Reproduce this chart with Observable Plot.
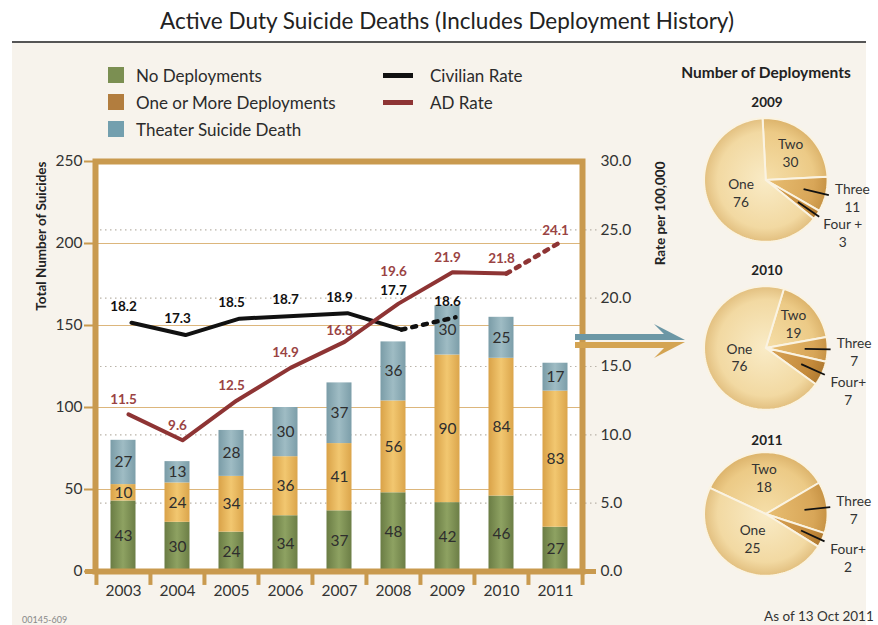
<!DOCTYPE html>
<html><head><meta charset="utf-8">
<script src="https://cdn.jsdelivr.net/npm/d3@7"></script>
<script src="https://cdn.jsdelivr.net/npm/@observablehq/plot@0.6"></script>
<style>
body{margin:0;width:878px;height:625px;position:relative;background:#fff;font-family:Lato,"Open Sans",sans-serif;color:#2b2b2b;overflow:hidden}
.abs{position:absolute;white-space:nowrap}
.c{transform:translate(-50%,-50%)}
.sw{position:absolute;width:16px;height:16px}
.ln{position:absolute;width:30px;height:5px}
.lg{position:absolute;font-size:17px;transform:translateY(-50%)}
</style></head><body>
<div class="abs" style="left:12px;top:43px;width:854px;height:582px;background:#f7f3ec"></div>
<div class="abs" style="left:12px;top:41px;width:854px;height:2px;background:#555"></div>
<div class="abs c" style="left:447px;top:20px;font-size:22.5px;color:#222">Active Duty Suicide Deaths (Includes Deployment History)</div>
<div id="legend"></div>
<div id="main" class="abs" style="left:0;top:140px"></div>
<div id="p2009" class="abs"></div>
<div id="p2010" class="abs"></div>
<div id="p2011" class="abs"></div>
<svg class="abs" style="left:0;top:0" width="878" height="625" pointer-events="none">
  <polygon points="575,334 664,334 654,324 685,340 575,340" fill="#6c97a5"/>
  <polygon points="575,342 685,342 654,358 664,348 575,348" fill="#d4a452"/>
</svg>
<div class="abs c" style="left:766px;top:72px;font-size:15.5px;font-weight:bold;color:#222">Number of Deployments</div>
<div class="abs c" style="left:767px;top:102px;font-size:13.5px;font-weight:bold;color:#222">2009</div>
<div class="abs c" style="left:767px;top:270px;font-size:13.5px;font-weight:bold;color:#222">2010</div>
<div class="abs c" style="left:767px;top:440px;font-size:13.5px;font-weight:bold;color:#222">2011</div>
<div class="abs" style="left:22px;top:614px;font-size:9px;color:#888">00145-609</div>
<div class="abs" style="left:764px;top:608px;font-size:13.5px;color:#333">As of 13 Oct 2011</div>
<script>
// ---------- data ----------
const years = ["2003","2004","2005","2006","2007","2008","2009","2010","2011"];
const categories = ["No Deployments","One or More Deployments","Theater Suicide Death"];
const noDeployments = [43,30,24,34,37,48,42,46,27];
const oneOrMore    = [10,24,34,36,41,56,90,84,83];
const theater      = [27,13,28,30,37,36,30,25,17];
const civilianYears = ["2003","2004","2005","2006","2007","2008","2009"];
const civilianRate  = [18.2,17.3,18.5,18.7,18.9,17.7,18.6];
const adRate        = [11.5,9.6,12.5,14.9,16.8,19.6,21.9,21.8,24.1];
const leftTicks  = [0,50,100,150,200,250];
const rightTicks = [0,5,10,15,20,25,30];
const lineSeries = ["Civilian Rate","AD Rate"];
const pieNames = ["Two","Three","Four+","One"];
const pie2009 = [30,11,3,76];
const pie2010 = [19,7,7,76];
const pie2011 = [18,7,2,25];
const pieLabels2009 = ["Two","Three","Four +","One"];
const pieLabels2010 = ["Two","Three","Four+","One"];
const pieLabels2011 = ["Two","Three","Four+","One"];

// ---------- styles ----------
const tan = "#c99a4f";
const legendColors = ["#7b8f52","#b27d3e","#739fae"];
const lineColors = ["#111","#8e3434"];
const k = 250 / 30; // rate -> count axis

// legend
const lg = document.getElementById("legend");
categories.forEach((c, i) => {
  lg.insertAdjacentHTML("beforeend",
    `<div class="sw" style="left:108px;top:${67 + i*27}px;background:${legendColors[i]}"></div>
     <div class="lg" style="left:136px;top:${75 + i*27}px">${c}</div>`);
});
lineSeries.forEach((c, i) => {
  lg.insertAdjacentHTML("beforeend",
    `<div class="ln" style="left:383px;top:${73 + i*27}px;background:${lineColors[i]}"></div>
     <div class="lg" style="left:430px;top:${75 + i*27}px">${c}</div>`);
});

// ---------- main chart ----------
const rows = [];
[noDeployments, oneOrMore, theater].forEach((arr, ci) =>
  arr.forEach((v, i) => rows.push({year: years[i], category: categories[ci], value: v})));
const civ = civilianYears.map((y, i) => ({year: y, rate: civilianRate[i]}));
const ad = years.map((y, i) => ({year: y, rate: adRate[i]}));

const W = 680, H = 480, mL = 95, mR = 98, mT = 21, mB = 49;
const bw = (W - mL - mR) / years.length;

const barDefs = () => {
  const g = document.createElementNS("http://www.w3.org/2000/svg", "defs");
  g.innerHTML = `
  <linearGradient id="gGreen" x1="0" x2="1" y1="0" y2="0"><stop offset="0" stop-color="#6a7c44"/><stop offset="0.5" stop-color="#8ea262"/><stop offset="1" stop-color="#6c7e46"/></linearGradient>
  <linearGradient id="gGold" x1="0" x2="1" y1="0" y2="0"><stop offset="0" stop-color="#d9a248"/><stop offset="0.5" stop-color="#f2c770"/><stop offset="1" stop-color="#dba54b"/></linearGradient>
  <linearGradient id="gBlue" x1="0" x2="1" y1="0" y2="0"><stop offset="0" stop-color="#7a9ca7"/><stop offset="0.5" stop-color="#9fbcc4"/><stop offset="1" stop-color="#7c9ea9"/></linearGradient>`;
  return g;
};

const lblBase = {x: "year", fontWeight: "bold", fontSize: 13.5};
const main = Plot.plot({
  width: W, height: H, marginLeft: mL, marginRight: mR, marginTop: mT, marginBottom: mB,
  style: {fontFamily: "Lato, 'Open Sans', sans-serif", fontSize: "15px", background: "transparent", color: "#333", overflow: "visible"},
  x: {type: "band", domain: years, padding: 0},
  y: {domain: [0, 250]},
  color: {domain: categories, range: ["url(#gGreen)", "url(#gGold)", "url(#gBlue)"]},
  marks: [
    barDefs,
    Plot.frame({fill: "white"}),
    Plot.ruleY(leftTicks.filter(d => d > 0 && d < 250), {stroke: "#dcb67c", strokeWidth: 1.2}),
    Plot.ruleY(rightTicks.filter(d => d > 0 && d < 30).map(d => d * k), {stroke: "#b9b3a8", strokeWidth: 1.2, strokeDasharray: "1.5,3.5", insetRight: -17}),
    Plot.barY(rows, {x: "year", y: "value", fill: "category", z: "category", insetLeft: 14.5, insetRight: 14.5}),
    Plot.text(rows, Plot.stackY({x: "year", y: "value", z: "category", text: "value", fontSize: 15.5, fill: "#2e2e2e"})),
    // Civilian rate
    Plot.line(civ.slice(0, 6), {x: "year", y: d => d.rate * k, stroke: lineColors[0], strokeWidth: 4, dx: 8}),
    Plot.line(civ.slice(5, 7), {x: "year", y: d => d.rate * k, stroke: lineColors[0], strokeWidth: 4.5, strokeDasharray: "4,7", strokeLinecap: "round", dx: 8}),
    // AD rate
    Plot.line(ad.slice(0, 8), {x: "year", y: d => d.rate * k, stroke: lineColors[1], strokeWidth: 4, dx: 5}),
    Plot.line(ad.slice(7, 9), {x: "year", y: d => d.rate * k, stroke: lineColors[1], strokeWidth: 4.5, strokeDasharray: "4,7", strokeLinecap: "round", dx: 5}),
    Plot.text(civ, {...lblBase, y: d => d.rate * k, text: d => d.rate.toFixed(1), fill: "#111", dy: -16, filter: d => d.year !== "2008"}),
    Plot.text(civ, {...lblBase, y: d => d.rate * k, text: d => d.rate.toFixed(1), fill: "#111", dy: -39, filter: d => d.year === "2008"}),
    Plot.text(ad, {...lblBase, y: d => d.rate * k, text: d => d.rate.toFixed(1), fill: "#9a4343", dy: -15, filter: d => !["2007","2008","2011"].includes(d.year)}),
    Plot.text(ad, {...lblBase, y: d => d.rate * k, text: d => d.rate.toFixed(1), fill: "#9a4343", dy: -11, filter: d => d.year === "2007" || d.year === "2011"}),
    Plot.text(ad, {...lblBase, y: d => d.rate * k, text: d => d.rate.toFixed(1), fill: "#9a4343", dy: -32, filter: d => d.year === "2008"}),
    // frame + axes
    Plot.frame({stroke: tan, strokeWidth: 6}),
    Plot.ruleY([0], {stroke: tan, strokeWidth: 5, insetLeft: -10, insetRight: -14}),
    Plot.ruleX(years, {x: d => d, dx: -bw / 2, y1: 0, y2: -8.5, stroke: tan, strokeWidth: 4}),
    Plot.ruleX([years[years.length - 1]], {x: d => d, dx: bw / 2, y1: 0, y2: -8.5, stroke: tan, strokeWidth: 4}),
    Plot.axisX({tickSize: 0, tickPadding: 13, fontSize: 15.5, label: null}),
    Plot.axisY({ticks: leftTicks, tickSize: 11, text: null, stroke: tan, strokeWidth: 2, label: null}),
    Plot.axisY({ticks: leftTicks, tickSize: 0, tickPadding: 13, fontSize: 15.5, label: null}),
    Plot.axisY({anchor: "right", ticks: rightTicks.map(d => d * k), tickFormat: d => (d / k).toFixed(1), tickSize: 0, tickPadding: 18, fontSize: 15.5, label: null}),
    Plot.text(["Total Number of Suicides"], {frameAnchor: "top-left", rotate: -90, textAnchor: "end", dx: -59, fontWeight: "bold", fontSize: 13.5, fill: "#222"}),
    Plot.text(["Rate per 100,000"], {frameAnchor: "top-right", rotate: -90, textAnchor: "end", dx: 73, fontWeight: "bold", fontSize: 13.5, fill: "#222"})
  ]
});
document.getElementById("main").append(main);

// ---------- pies ----------
const pieFill = {
  "One":   ["#f9ebc6", "#f2d9a2", "#e2bf7f"],
  "Two":   ["#f5dea8", "#ecca86", "#dcb36b"],
  "Three": ["#e8be72", "#d8a658", "#c79345"],
  "Four+": ["#d9a558", "#c48a3b", "#b07a30"]
};
const R = 63;
const rad = d => d * Math.PI / 180;
const polar = (r, a) => ({x: r * Math.sin(a), y: r * Math.cos(a)});

function makePie(id, values, labels, startDeg, cy) {
  const arcs = d3.pie().sort(null).value(d => d)
    .startAngle(rad(startDeg)).endAngle(rad(startDeg) + 2 * Math.PI)(values);
  const poly = [];
  const info = arcs.map((a, i) => {
    const name = pieNames[i];
    poly.push({name, x: 0, y: 0});
    const n = Math.max(2, Math.ceil((a.endAngle - a.startAngle) / rad(2)));
    for (let j = 0; j <= n; j++) {
      const t = a.startAngle + (a.endAngle - a.startAngle) * j / n;
      poly.push({name, ...polar(R, t)});
    }
    poly.push({name, x: 0, y: 0});
    const mid = (a.startAngle + a.endAngle) / 2;
    return {name, label: labels[i], value: values[i], mid};
  });
  const inner = info.filter(d => d.name === "One" || d.name === "Two").map(d => ({
    ...polar(R * (d.name === "One" ? 0.45 : 0.6), d.mid), text: d.label + "\n" + d.value}));
  const outer = info.filter(d => d.name === "Three" || d.name === "Four+").map(d => {
    const s = polar(R * 0.63, d.mid), e = polar(R * 1.05, d.mid);
    return {name: d.name, x1: s.x, y1: s.y, x2: e.x, y2: e.y, text: d.label + "\n" + d.value};
  });
  const gradDefs = (index, scales) => {
    const g = document.createElementNS("http://www.w3.org/2000/svg", "defs");
    const cx = scales.x(0), cyy = scales.y(0);
    g.innerHTML = pieNames.map(nm => `<radialGradient id="${id}-${nm.replace("+","p")}" gradientUnits="userSpaceOnUse" cx="${cx}" cy="${cyy}" r="${R}">
      <stop offset="0" stop-color="${pieFill[nm][0]}"/><stop offset="0.78" stop-color="${pieFill[nm][1]}"/><stop offset="1" stop-color="${pieFill[nm][2]}"/></radialGradient>`).join("");
    return g;
  };
  const p = Plot.plot({
    width: 200, height: 150, margin: 0,
    style: {fontFamily: "Lato, 'Open Sans', sans-serif", background: "transparent", color: "#333", overflow: "visible"},
    x: {domain: [-85, 115], axis: null},
    y: {domain: [-75, 75], axis: null},
    color: {type: "identity"},
    marks: [
      gradDefs,
      Plot.line(poly, {x: "x", y: "y", z: "name", fill: d => `url(#${id}-${d.name.replace("+","p")})`, stroke: "#faf3e2", strokeWidth: 2, strokeLinejoin: "round", curve: "linear"}),
      Plot.text(inner, {x: "x", y: "y", text: "text", fontSize: 14, fill: "#333", lineHeight: 1.3}),
      Plot.link(outer, {x1: "x1", y1: "y1", x2: "x2", y2: "y2", stroke: "#111", strokeWidth: 1.8}),
      Plot.text(outer, {x: "x2", y: "y2", text: "text", fontSize: 14, fill: "#333", lineHeight: 1.3, dx: 24, dy: 2, filter: d => d.name === "Three"}),
      Plot.text(outer, {x: "x2", y: "y2", text: "text", fontSize: 14, fill: "#333", lineHeight: 1.3, dx: 24, dy: 16, filter: d => d.name === "Four+"})
    ]
  });
  const el = document.getElementById(id);
  el.style.left = (767 - 85) + "px";
  el.style.top = (cy - 75) + "px";
  el.append(p);
}
makePie("p2009", pie2009, pieLabels2009, -3, 181);
makePie("p2010", pie2010, pieLabels2010, 17, 349);
makePie("p2011", pie2011, pieLabels2011, -65, 515);
</script>
</body></html>
